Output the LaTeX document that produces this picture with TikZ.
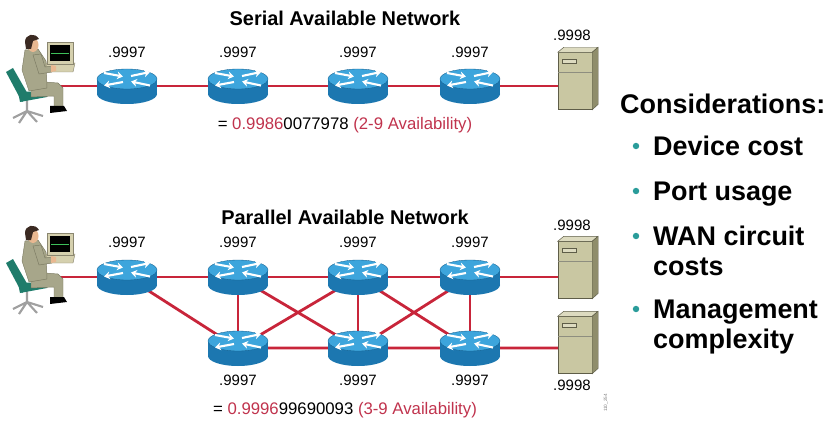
\documentclass[tikz,border=0pt]{standalone}
\usepackage{fontspec}
\setmainfont{Liberation Sans}
\usepackage{tikz}
\usetikzlibrary{arrows.meta, backgrounds, positioning}

\definecolor{linkred}{HTML}{C8253A}
\definecolor{sumred}{HTML}{C0334D}
\definecolor{rtrtop}{HTML}{3DA5DC}
\definecolor{rtrside}{HTML}{1C77B0}
\definecolor{rtredge}{HTML}{15608F}
\definecolor{srvfront}{HTML}{C9C7A2}
\definecolor{srvside}{HTML}{8F8D6B}
\definecolor{srvtop}{HTML}{DDDBC0}
\definecolor{srvline}{HTML}{5E5D48}
\definecolor{dotteal}{HTML}{2A9C9A}
\definecolor{suit}{HTML}{A7A68A}
\definecolor{suitdark}{HTML}{7B7A62}
\definecolor{chairteal}{HTML}{1F7C6B}
\definecolor{chairgray}{HTML}{A0A0A0}
\definecolor{skin}{HTML}{E9B891}
\definecolor{hair}{HTML}{3B2A22}
\definecolor{monbeige}{HTML}{D5D0AE}
\definecolor{monline}{HTML}{8A8670}
\definecolor{scrgreen}{HTML}{3DBF5A}

\tikzset{
  ttl/.style={font=\fontsize{17}{20}\selectfont\bfseries},
  avail/.style={font=\fontsize{12.8}{15}\selectfont},
  sumtxt/.style={font=\fontsize{14.3}{17}\selectfont},
  cons/.style={font=\fontsize{23}{26}\selectfont\bfseries, anchor=base west, inner sep=0},
  dot/.style={circle, fill=dotteal, inner sep=0, minimum size=5.5pt},
  link/.style={draw=linkred, line width=2.4pt},
  rarr/.style={white, line width=1.8pt, -{Stealth[length=5pt, width=6.5pt]}},
  rtr/.style={minimum width=62*0.03cm, minimum height=38*0.03cm, inner sep=0,
    path picture={
      \begin{scope}[shift={(path picture bounding box.center)}]
        \fill[rtrside] (-30,-7) rectangle (30,8);
        \fill[rtrside] (0,8) ellipse (30 and 10);
        \fill[rtrtop, draw=rtredge, line width=0.3pt] (0,-7) ellipse (30 and 10);
        \draw[rarr] (-23,-13) -- (-4,-9.5);
        \draw[rarr] (4,-10) -- (23,-14);
        \draw[rarr] (-4,-4) -- (-23,-0.5);
        \draw[rarr] (23,-0.5) -- (4,-4.5);
      \end{scope}
    }},
  srv/.style={draw=srvline, fill=srvfront, line width=0.4pt, inner sep=0,
    minimum width=34*0.03cm, minimum height=57*0.03cm},
  user/.pic={
    % chair
    \draw[chairgray, line width=1.8pt] (27,99) -- (27,111)
      (13,118) -- (27,111) -- (43,116) (19,123) -- (27,111) -- (37,122);
    \fill[chairteal] (6,72) -- (13,68) -- (29,96) -- (22,102) -- cycle;
    \fill[chairteal] (18,92) -- (45,91) -- (47,97) -- (20,102) -- cycle;
    % desk and monitor
    \fill[monbeige, draw=monline] (44,63) -- (75,63) -- (73,72) -- (46,72) -- cycle;
    \fill[monbeige, draw=monline] (47,42) rectangle (73,64);
    \fill[black] (50,45) rectangle (70,61);
    \draw[scrgreen, line width=0.8pt] (51,53) -- (69,53);
    % legs and shoes
    \fill[suit, draw=suitdark] (31,81) -- (58,83) -- (63,88) -- (63,107) -- (54,107) -- (54,96) -- (31,97) -- cycle;
    \fill[black] (50,106) -- (64,106) -- (67,111) -- (50,113) -- cycle;
    % body and arm
    \fill[suit, draw=suitdark] (25,50) -- (38,49) -- (46,61) -- (47,88) -- (29,91) -- (22,70) -- cycle;
    \fill[suit, draw=suitdark] (33,55) -- (41,54) -- (45,67) -- (52,66) -- (52,72) -- (39,74) -- cycle;
    \fill[skin] (51,65) -- (56,66) -- (56,71) -- (51,72) -- cycle;
    % head
    \fill[skin] (33,45) ellipse (5.5 and 7);
    \fill[hair] (25,42) .. controls (25,34) and (35,32) .. (39,39) -- (33,41) -- (31,49) -- (26,49) -- cycle;
  }
}

% top and side faces of a server tower
\newcommand\srvdeco[1]{
  \fill[srvtop, draw=srvline, line width=0.4pt] (#1.north west) -- ++(6,-5) -- ++(34,0) -- (#1.north east) -- cycle;
  \fill[srvside, draw=srvline, line width=0.4pt] (#1.north east) -- ++(6,-5) -- ++(0,57) -- (#1.south east) -- cycle;
  \draw[srvline, fill=srvtop, line width=0.3pt] ([shift={(4,7)}]#1.north west) rectangle ++(14,4);
  \draw[srvline!70, line width=0.3pt] ([shift={(0,20)}]#1.north west) -- ([shift={(0,20)}]#1.north east);
}

\begin{document}
\begin{tikzpicture}[x=0.03cm, y=-0.03cm]
  \useasboundingbox (0,0) rectangle (833,424);

  % serial network
  \node[ttl] (sertitle) at (345,18) {Serial Available Network};
  \pic at (0,0) {user};
  \coordinate (su) at (60,86);
  \foreach \n/\x in {1/127,2/238,3/358,4/470} {
    \node[rtr] (s\n) at (\x,86) {};
    \node[avail] (ls\n) at (\x,52) {.9997};
  }
  \node[srv] (sv) at (575,81) {};
  \srvdeco{sv}
  \node[avail] (lsv) at (572,35) {.9998};
  \node[sumtxt] (sersum) at (345,125)
    {= \textcolor{sumred}{0.9986}0077978 \textcolor{sumred}{(2-9 Availability)}};

  % parallel network
  \node[ttl] (partitle) at (345,217) {Parallel Available Network};
  \pic at (0,191) {user};
  \coordinate (pu) at (55,277);
  \node[rtr] (r1) at (127,277) {};
  \node[avail] (lr1) at (127,242) {.9997};
  \foreach \n/\x in {2/238,3/358,4/470} {
    \node[rtr] (t\n) at (\x,277) {};
    \node[rtr] (b\n) at (\x,348) {};
    \node[avail] (lt\n) at (\x,242) {.9997};
    \node[avail] (lb\n) at (\x,380) {.9997};
  }
  \node[srv] (pt) at (575,270) {};
  \srvdeco{pt}
  \node[srv] (pb) at (575,345) {};
  \srvdeco{pb}
  \node[avail] (lpt) at (572,225) {.9998};
  \node[avail] (lpb) at (572,385) {.9998};
  \node[sumtxt] (parsum) at (345,410)
    {= \textcolor{sumred}{0.9996}99690093 \textcolor{sumred}{(3-9 Availability)}};
  \node[gray, font=\fontsize{4}{5}\selectfont, rotate=90] (tag) at (606,403) {110\_254};

  % links
  \begin{pgfonlayer}{background}
    \draw[link] (su) -- (s1.center) -- (s2.center) -- (s3.center) -- (s4.center) -- (s4.center -| sv.west);
    \draw[link] (pu) -- (r1.center) -- (t2.center) -- (t3.center) -- (t4.center) -- (t4.center -| pt.west);
    \draw[link] (r1.center) -- (b2.center) -- (b3.center) -- (b4.center) -- (b4.center -| pb.west);
    \draw[link] (t2.center) -- (b2.center) (t3.center) -- (b3.center) (t4.center) -- (b4.center);
    \draw[link] (t2.center) -- (b3.center) (b2.center) -- (t3.center);
    \draw[link] (t3.center) -- (b4.center) (b3.center) -- (t4.center);
  \end{pgfonlayer}

  % considerations
  \node[cons] (ctitle) at (620,113) {Considerations:};
  \node[cons] (c1) at (653,155) {Device cost};
  \node[cons] (c2) at (653,200) {Port usage};
  \node[cons] (c3) at (653,245) {WAN circuit};
  \node[cons] (c3b) at (653,275) {costs};
  \node[cons] (c4) at (653,318) {Management};
  \node[cons] (c4b) at (653,348) {complexity};
  \foreach \c in {c1,c2,c3,c4}
    \node[dot] (d\c) at ([shift={(-17,-9)}]\c.base west) {};
\end{tikzpicture}
\end{document}
